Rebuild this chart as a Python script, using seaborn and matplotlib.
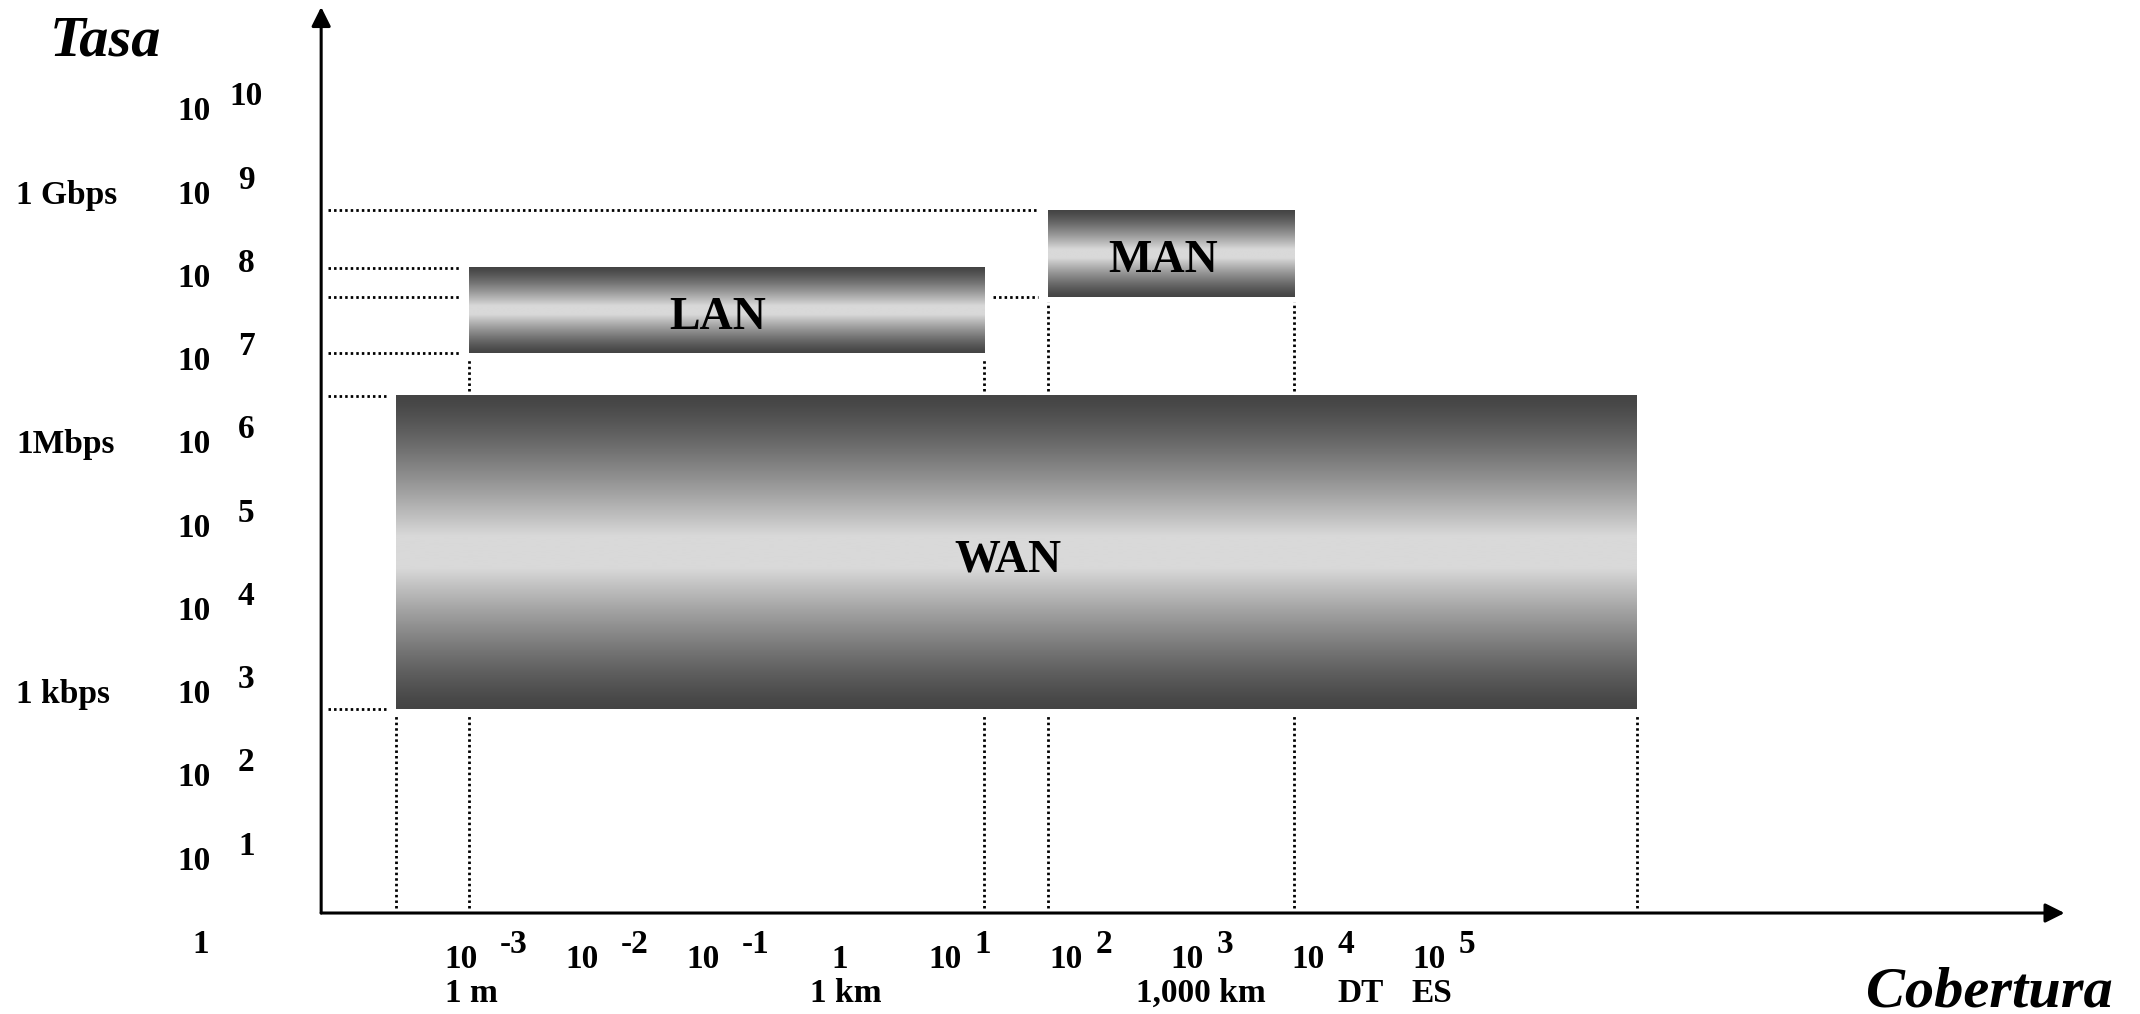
import numpy as np
import matplotlib
matplotlib.use("Agg")
import matplotlib.pyplot as plt
import seaborn as sns

# Networks: coverage in decades of km (x), rate in decades of bps (y)
networks = ["WAN", "LAN", "MAN"]
cover_lo = [-3.54, -2.94, 1.85]
cover_hi = [6.72, 1.32, 3.89]
rate_lo = [2.83, 7.10, 7.78]
rate_hi = [6.59, 8.13, 8.82]

# Axis labels
y_exponents = [1, 2, 3, 4, 5, 6, 7, 8, 9, 10]
rate_names = ["1 Gbps", "1Mbps", "1 kbps"]
rate_levels = [9, 6, 3]
x_exponents = [-3, -2, -1, 1, 2, 3, 4, 5]
x_one_pos = 0.13
dist_names = ["1 m", "1 km", "1,000 km", "DT", "ES"]
dist_pos = [-2.92, 0.18, 3.12, 4.44, 5.03]

# axes geometry (in data units)
axis_u, axis_k = -4.16, 0.377
arrow_u, arrow_k = 10.26, 11.26

sns.set_style("white")
plt.rcParams["font.family"] = ["Liberation Serif", "DejaVu Serif"]
plt.rcParams["font.weight"] = "bold"
plt.rcParams["text.color"] = "black"

fig = plt.figure(figsize=(21.4, 10.14), dpi=100)
ax = fig.add_axes([0, 0, 1, 1])

# gradient boxes
cmap = sns.blend_palette(["#444444", "#d9d9d9"], as_cmap=True)
t = np.linspace(0, 1, 300)
shade = np.clip((1 - np.abs(2 * t - 1)) / 0.9, 0, 1) ** 1.25
for name, x0, x1, y0, y1 in zip(networks, cover_lo, cover_hi, rate_lo, rate_hi):
    ax.imshow(shade[:, None], extent=(x0, x1, y0, y1), origin="lower", cmap=cmap,
              vmin=0, vmax=1, aspect="auto", interpolation="bilinear", zorder=3)
    ax.annotate(name, xy=((x0 + x1) / 2, (y0 + y1) / 2), xytext=(-8, -8),
                textcoords="offset pixels", ha="center", va="center",
                fontsize=33, fontweight="bold", color="black", zorder=4)


def dotted_run(start, stop, cuts, gap):
    pieces, cur = [], start
    for a, b in sorted(cuts):
        if b <= cur or a >= stop:
            continue
        if a - gap > cur:
            pieces.append((cur, a - gap))
        cur = max(cur, b + gap)
    if stop > cur:
        pieces.append((cur, stop))
    return pieces


dot = dict(color="black", lw=2.0, linestyle=(0, (0.9, 1.1)), zorder=2)
hgap, vgap = 0.08, 0.06
n = len(networks)
for i in range(n):
    # horizontal guides to the rate axis
    for level in (rate_lo[i], rate_hi[i]):
        cuts = [(cover_lo[j], cover_hi[j]) for j in range(n)
                if j != i and rate_lo[j] <= level <= rate_hi[j]]
        for a, b in dotted_run(axis_u + 0.055, cover_lo[i] - hgap, cuts, hgap):
            ax.plot([a, b], [level, level], **dot)
    # vertical guides to the coverage axis
    for xe in (cover_lo[i], cover_hi[i]):
        cuts = [(rate_lo[j], rate_hi[j]) for j in range(n)
                if j != i and cover_lo[j] <= xe <= cover_hi[j]]
        for a, b in dotted_run(axis_k + 0.066, rate_lo[i] - vgap, cuts, vgap):
            ax.plot([xe, xe], [a, b], **dot)

# axes with arrows
arrow = dict(arrowstyle="-|>", color="black", lw=2.2, mutation_scale=29,
             shrinkA=0, shrinkB=0)
ax.annotate("", xy=(axis_u, arrow_k), xytext=(axis_u, axis_k), arrowprops=arrow)
ax.annotate("", xy=(arrow_u, axis_k), xytext=(axis_u, axis_k), arrowprops=arrow)

fs = 24
# y tick labels
ylab_u = -5.21
for k in y_exponents:
    ax.text(ylab_u, k, "10", ha="center", va="center", fontsize=fs)
    ax.annotate(str(k), xy=(ylab_u, k), xytext=(52, 15), textcoords="offset pixels",
                ha="center", va="center", fontsize=fs)
ax.text(ylab_u + 0.05, 0, "1", ha="center", va="center", fontsize=fs)
for name, k in zip(rate_names, rate_levels):
    ax.text(-6.68, k, name, ha="left", va="center", fontsize=fs)

# x tick labels
xlab_k = -0.181
for e in x_exponents:
    ax.text(e, xlab_k, "10", ha="center", va="center", fontsize=fs)
    ax.annotate(str(e), xy=(e, xlab_k), xytext=(52 if e < 0 else 38, 15),
                textcoords="offset pixels", ha="center", va="center", fontsize=fs)
ax.text(x_one_pos, xlab_k, "1", ha="center", va="center", fontsize=fs)
for name, u in zip(dist_names, dist_pos):
    ax.text(u, -0.591, name, ha="center", va="center", fontsize=fs)

# axis titles
ax.text(-5.94, 10.85, "Tasa", ha="center", va="center", fontsize=42,
        fontweight="bold", style="italic")
ax.text(9.64, -0.573, "Cobertura", ha="center", va="center", fontsize=42,
        fontweight="bold", style="italic")

ax.set_xlim(-824.1 / 120.9, (2140 - 824.1) / 120.9)
ax.set_ylim(-69.6 / 83.25, (1014 - 69.6) / 83.25)
ax.set_axis_off()

fig.savefig("out.png", dpi=100, facecolor="white")
